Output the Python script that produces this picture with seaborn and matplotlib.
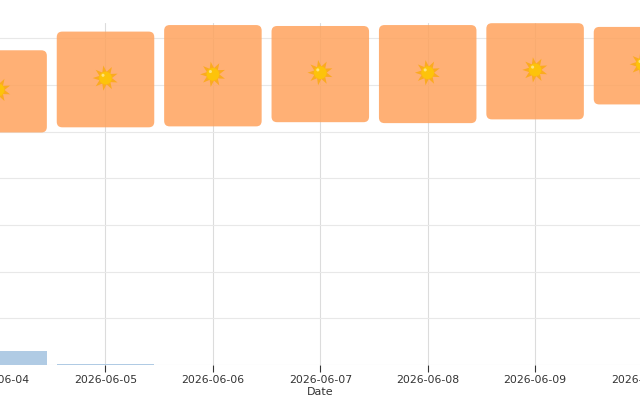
import matplotlib
matplotlib.use("Agg")
import matplotlib.pyplot as plt
from matplotlib.patches import FancyBboxPatch
from matplotlib.transforms import offset_copy
import numpy as np
import pandas as pd
import seaborn as sns

dates = ["2026-06-04", "2026-06-05", "2026-06-06", "2026-06-07",
         "2026-06-08", "2026-06-09", "2026-06-10"]
temp_high = [33.7, 35.7, 36.4, 36.3, 36.4, 36.6, 36.2]
temp_low = [24.9, 25.45, 25.55, 26.0, 25.9, 26.3, 27.9]
rain = [1.5, 0.12, 0.0, 0.0, 0.0, 0.0, 0.0]
y_ticks = [0, 5, 10, 15, 20, 25, 30, 35]

sns.set_theme(style="whitegrid", rc={
    "font.family": "DejaVu Sans",
    "grid.linewidth": 0.8,
})

df = pd.DataFrame({"Date": dates, "high": temp_high, "low": temp_low, "rain": rain})
df["span"] = df["high"] - df["low"]
df["mid"] = (df["high"] + df["low"]) / 2 + 0.15

fig = plt.figure(figsize=(6.4, 4.0), dpi=100)
# The axes run past the figure edges so the outer days are cut off by the canvas.
ax = fig.add_axes([-55.6 / 640, 35 / 400, 751.8 / 640, 342 / 400])

BAR_WIDTH = 0.908
sns.barplot(data=df, x="Date", y="rain", color="#b0cbe4", saturation=1,
            width=BAR_WIDTH, edgecolor="none", linewidth=0, ax=ax, zorder=2)

# Temperature ranges: floating bars whose corners are rounded afterwards.
before = len(ax.patches)
sns.barplot(data=df, x="Date", y="span", bottom=df["low"].to_numpy(), color="#ffa35d",
            saturation=1, width=BAR_WIDTH, edgecolor="none", linewidth=0, ax=ax, zorder=3)
ax.set_xlim(-0.5, 6.5)
ax.set_ylim(0, 36.62)
x_per_px = 7 / 751.8
y_per_px = 36.62 / 342
for p in list(ax.patches)[before:]:
    rounded = FancyBboxPatch(
        (p.get_x(), p.get_y()), p.get_width(), p.get_height(),
        boxstyle=f"round,pad=0,rounding_size={5.5 * x_per_px}",
        mutation_aspect=y_per_px / x_per_px,
        facecolor="#ffa35d", edgecolor="none", alpha=0.85, zorder=3,
        clip_on=False,
    )
    p.remove()
    ax.add_patch(rounded)

# Sun symbol at the middle of each temperature range: rays, disc and a small glint.
sns.scatterplot(data=df, x="Date", y="mid", marker=(9, 1, 10), s=340, color="#fbaa20",
                edgecolor="none", ax=ax, zorder=4, legend=False, clip_on=False)
sns.scatterplot(data=df, x="Date", y="mid", marker="o", s=85, color="#fdc30a",
                edgecolor="none", ax=ax, zorder=5, legend=False, clip_on=False)
glint = offset_copy(ax.transData, fig=fig, x=-1.8, y=2.0, units="points")
ax.scatter(range(len(dates)), df["mid"], marker="o", s=5, color="#ffe27a",
           edgecolor="none", transform=glint, zorder=6, clip_on=False)

ax.set_yticks(y_ticks)
ax.set_ylabel("")
ax.tick_params(axis="y", length=0, labelleft=False)
ax.tick_params(axis="x", length=4.8, width=0.8, color="#333333", labelsize=7.8,
               labelcolor="#333333", pad=2.7, bottom=True)
ax.set_xlabel("Date", fontsize=8, color="#333333", labelpad=1.4)
ax.grid(True, axis="y", color="#e8e8e8")
ax.grid(True, axis="x", color="#dcdcdc")
ax.set_axisbelow(True)
for spine in ax.spines.values():
    spine.set_visible(False)

fig.savefig("out.png", dpi=100)
